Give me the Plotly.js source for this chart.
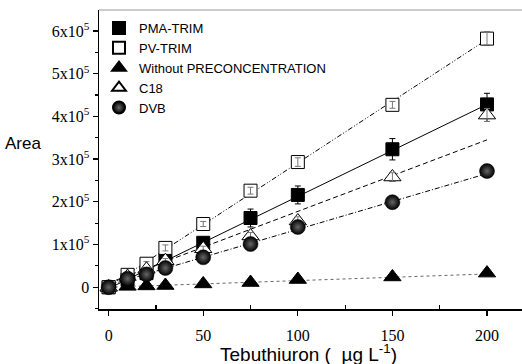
<!DOCTYPE html>
<html>
<head>
<meta charset="utf-8">
<script src="https://cdn.plot.ly/plotly-3.0.1.min.js"></script>
<style>html,body{margin:0;padding:0;background:#fff;}#chart{width:522px;height:364px;}</style>
</head>
<body>
<div id="chart"></div>
<script>
// Concentrations (µg L-1)
const concentrations = [0, 10, 20, 30, 50, 75, 100, 150, 200];

// Peak areas per preconcentration method
const pmaTrim    = [0, 0.18e5, 0.33e5, 0.62e5, 1.04e5, 1.62e5, 2.16e5, 3.23e5, 4.28e5];
const pmaTrimErr = [0.02e5, 0.02e5, 0.03e5, 0.05e5, 0.10e5, 0.21e5, 0.21e5, 0.25e5, 0.26e5];
const pvTrim     = [0, 0.29e5, 0.55e5, 0.92e5, 1.48e5, 2.26e5, 2.93e5, 4.27e5, 5.82e5];
const pvTrimErr  = [0.02e5, 0.04e5, 0.05e5, 0.07e5, 0.06e5, 0.08e5, 0.10e5, 0.08e5, 0.15e5];
const withoutPre = [0, 0.02e5, 0.03e5, 0.04e5, 0.077e5, 0.11e5, 0.18e5, 0.24e5, 0.33e5];
const withoutErr = [0.01e5, 0.01e5, 0.01e5, 0.01e5, 0.01e5, 0.01e5, 0.01e5, 0.01e5, 0.01e5];
const c18        = [0, 0.25e5, 0.42e5, 0.62e5, 0.90e5, 1.20e5, 1.55e5, 2.58e5, 4.03e5];
const c18Err     = [0.03e5, 0.03e5, 0.04e5, 0.05e5, 0.06e5, 0.08e5, 0.10e5, 0.10e5, 0.15e5];
const dvb        = [0, 0.20e5, 0.30e5, 0.45e5, 0.70e5, 1.01e5, 1.41e5, 1.99e5, 2.72e5];
const dvbErr     = [0.03e5, 0.03e5, 0.03e5, 0.04e5, 0.05e5, 0.05e5, 0.06e5, 0.06e5, 0.06e5];

// Linear fit lines (end points)
const fitX       = [0, 200];
const pmaFit     = [-0.03e5, 4.28e5];
const pvFit      = [0.02e5, 5.80e5];
const withoutFit = [0.0, 0.31e5];
const c18Fit     = [0.10e5, 3.45e5];
const dvbFit     = [0.05e5, 2.66e5];

// Tick labels
const yTickVals = [0, 1e5, 2e5, 3e5, 4e5, 5e5, 6e5];
const yTickText = ['0', '1x10<sup>5</sup>', '2x10<sup>5</sup>', '3x10<sup>5</sup>', '4x10<sup>5</sup>', '5x10<sup>5</sup>', '6x10<sup>5</sup>'];
const yMinorVals = [-0.5e5, 0.5e5, 1.5e5, 2.5e5, 3.5e5, 4.5e5, 5.5e5];
const xTickVals = [0, 50, 100, 150, 200];
const xTickText = ['0', '50', '100', '150', '200'];
const xMinorVals = [25, 75, 125, 175];

function fitLine(y, dash, color) {
  return {x: fitX, y: y, mode: 'lines', showlegend: false, hoverinfo: 'skip',
          line: {color: color || '#000', width: 1, dash: dash}};
}
function errSpec(arr, color) {
  return {type: 'data', array: arr, visible: true, color: color || '#000', thickness: 1, width: 3};
}

const traces = [
  fitLine(withoutFit, 'dot', '#666'),
  fitLine(dvbFit, '5px,2px,1px,2px'),
  fitLine(c18Fit, '5px,3px'),
  fitLine(pmaFit, 'solid'),
  fitLine(pvFit, '5px,2px,1px,2px,1px,2px'),
  {x: concentrations, y: pmaTrim, name: 'PMA-TRIM', mode: 'markers',
   marker: {symbol: 'square', size: 13, color: '#000', line: {color: '#000', width: 1}},
   error_y: errSpec(pmaTrimErr)},
  {x: concentrations, y: pvTrim, name: 'PV-TRIM', mode: 'markers',
   marker: {symbol: 'square', size: 13, color: '#fff', line: {color: '#000', width: 1}},
   error_y: errSpec(pvTrimErr)},
  {x: concentrations, y: pvTrim, mode: 'markers', showlegend: false, hoverinfo: 'skip',
   marker: {size: 1, color: 'rgba(0,0,0,0)'}, error_y: errSpec(pvTrimErr, '#777')},
  {x: concentrations, y: withoutPre, name: 'Without PRECONCENTRATION', mode: 'markers',
   marker: {symbol: 'triangle-up', size: 15, color: '#000', line: {color: '#000', width: 1}},
   error_y: errSpec(withoutErr)},
  {x: concentrations, y: c18, name: 'C18', mode: 'markers',
   marker: {symbol: 'triangle-up', size: 15, color: '#fff', line: {color: '#000', width: 1}},
   error_y: errSpec(c18Err)},
  {x: concentrations, y: c18, mode: 'markers', showlegend: false, hoverinfo: 'skip',
   marker: {size: 1, color: 'rgba(0,0,0,0)'}, error_y: errSpec(c18Err, '#777')},
  {x: concentrations, y: dvb, name: 'DVB', mode: 'markers',
   marker: {symbol: 'circle', size: 15, color: '#000', line: {color: '#000', width: 0.5},
            gradient: {type: 'radial', color: '#666'}},
   error_y: errSpec(dvbErr)}
];

const serif = '"Liberation Serif", "Times New Roman", Times, serif';
const sans = '"Liberation Sans", Arial, sans-serif';

const layout = {
  width: 522, height: 364,
  margin: {l: 99, r: 0, t: 10, b: 55},
  paper_bgcolor: '#fff', plot_bgcolor: '#fff',
  font: {family: sans, color: '#000'},
  showlegend: true,
  legend: {x: 0, y: 0.99, xanchor: 'left', yanchor: 'top', bgcolor: 'rgba(0,0,0,0)',
           font: {family: sans, size: 13, color: '#000'}, tracegroupgap: 0, itemsizing: 'constant'},
  xaxis: {
    range: [-5.1, 218.5], tickmode: 'array', tickvals: xTickVals, ticktext: xTickText,
    ticks: 'outside', ticklen: 5, tickwidth: 1.2, tickcolor: '#000',
    showline: true, linecolor: '#000', linewidth: 1.5, showgrid: false, zeroline: false,
    tickfont: {family: serif, size: 16, color: '#000'}, ticklabelstandoff: 6,
    minor: {tickmode: 'array', tickvals: xMinorVals, ticks: 'inside', ticklen: 4, tickwidth: 1.2, tickcolor: '#000', showgrid: false}
  },
  yaxis: {
    range: [-0.51e5, 6.49e5], tickmode: 'array', tickvals: yTickVals, ticktext: yTickText,
    ticks: 'outside', ticklen: 5, tickwidth: 1.2, tickcolor: '#000',
    showline: true, linecolor: '#000', linewidth: 1.5, showgrid: false, zeroline: false,
    tickfont: {family: serif, size: 16, color: '#000'},
    minor: {tickmode: 'array', tickvals: yMinorVals, ticks: 'outside', ticklen: 3, tickwidth: 1.2, tickcolor: '#000', showgrid: false}
  },
  shapes: [{type: 'line', xref: 'paper', yref: 'paper', x0: 0, x1: 1, y0: 1, y1: 1, line: {color: '#999', width: 1}}],
  annotations: [
    {text: 'Area', xref: 'paper', yref: 'paper', x: -0.227, y: 0.555, xanchor: 'left', yanchor: 'middle',
     showarrow: false, font: {family: sans, size: 17, color: '#000'}},
    {text: 'Tebuthiuron (  µg L<sup>-1</sup>)', xref: 'paper', yref: 'paper', x: 0.495, y: -0.19,
     xanchor: 'center', yanchor: 'bottom', showarrow: false, borderpad: 0, font: {family: sans, size: 19, color: '#000'}}
  ]
};

Plotly.newPlot('chart', traces, layout, {displayModeBar: false, staticPlot: true});
</script>
</body>
</html>
